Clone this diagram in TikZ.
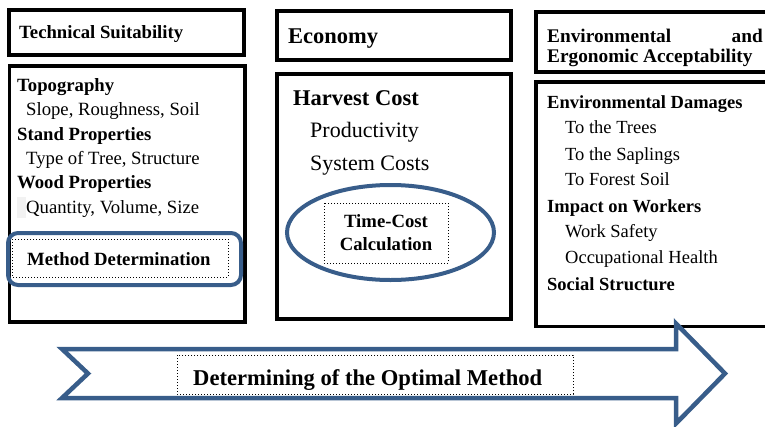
\documentclass[tikz,border=0pt]{standalone}
\usepackage{fontspec}
\setmainfont{Liberation Serif}
\usetikzlibrary{shapes.geometric}
\definecolor{arrblue}{RGB}{56,93,138}
\begin{document}
\begin{tikzpicture}[x=1pt,y=-1pt,
  box/.style={draw=black,line width=3.8pt},
  bluebox/.style={draw=arrblue,line width=4pt},
  dotbox/.style={draw=black,line width=0.9pt,dash pattern=on 0.9pt off 2.1pt},
  txt/.style={anchor=base west,inner sep=0pt,font=\fontsize{18.7}{22}\selectfont},
  btxt/.style={anchor=base west,inner sep=0pt,font=\fontsize{18.7}{22}\selectfont\bfseries},
  etxt/.style={anchor=base west,inner sep=0pt,font=\fontsize{22}{26}\selectfont},
  ebtxt/.style={anchor=base west,inner sep=0pt,font=\fontsize{22.5}{26}\selectfont\bfseries},
  vtxt/.style={anchor=base west,inner sep=0pt,font=\fontsize{18.5}{22}\selectfont},
  vbtxt/.style={anchor=base west,inner sep=0pt,font=\fontsize{18.5}{22}\selectfont\bfseries},
]
\useasboundingbox (0,0) rectangle (765,426);

% ---- column boxes
\draw[box] (8.7,10) rectangle (243.7,55);
\draw[box] (9.5,66.3) rectangle (244.7,322);
\draw[box] (277,11.3) rectangle (510.7,59.7);
\draw[box] (277,73.8) rectangle (511,318.7);
\draw[box] (536,12) rectangle (790,72);
\draw[box] (536,82) rectangle (790,326.5);

% ---- Technical Suitability
\node[btxt] (ts) at (19,38) {Technical Suitability};
\fill[black!5] (17,197) rectangle (26,218);
\node[btxt] (topo) at (17,91) {Topography};
\node[txt] (slope) at (26,115) {Slope, Roughness, Soil};
\node[btxt] (stand) at (17,140) {Stand Properties};
\node[txt] (type) at (26,164) {Type of Tree, Structure};
\node[btxt] (wood) at (17,188) {Wood Properties};
\node[txt] (qty) at (26,213) {Quantity, Volume, Size};
\draw[bluebox,rounded corners=10pt] (8,233) rectangle (241,285);
\draw[dotbox] (12,239) rectangle (228,277);
\node[btxt] (md) at (27,265) {Method Determination};

% ---- Economy
\node[ebtxt] (eco) at (288,43) {Economy};
\node[ebtxt] (hc) at (293,105) {Harvest Cost};
\node[etxt] (prod) at (310,137) {Productivity};
\node[etxt] (sc) at (310,170) {System Costs};
\draw[bluebox] (390.5,232.5) ellipse [x radius=103.5, y radius=47.5];
\draw[dotbox] (324,203) rectangle (448,263);
\node[anchor=base,inner sep=0pt,font=\fontsize{18.7}{22}\selectfont\bfseries] (tc1) at (386,227) {Time-Cost};
\node[anchor=base,inner sep=0pt,font=\fontsize{18.7}{22}\selectfont\bfseries] (tc2) at (386,250) {Calculation};

% ---- Environmental
\node[anchor=base west,inner sep=0pt,font=\fontsize{19.3}{22}\selectfont\bfseries] (env1) at (547,42) {Environmental};
\node[anchor=base east,inner sep=0pt,font=\fontsize{19.3}{22}\selectfont\bfseries] (env2) at (763,42) {and};
\node[anchor=base west,inner sep=0pt,font=\fontsize{19.3}{22}\selectfont\bfseries] (env3) at (547,62) {Ergonomic Acceptability};
\node[vbtxt] (ed) at (547,108) {Environmental Damages};
\node[vtxt] (tt) at (565,133) {To the Trees};
\node[vtxt] (tsap) at (565,160) {To the Saplings};
\node[vtxt] (tfs) at (565,185) {To Forest Soil};
\node[vbtxt] (iw) at (547,212) {Impact on Workers};
\node[vtxt] (ws) at (565,237) {Work Safety};
\node[vtxt] (oh) at (565,263) {Occupational Health};
\node[vbtxt] (ss) at (547,290) {Social Structure};

% ---- big arrow
\draw[draw=arrblue,line width=4.5pt,line join=miter]
  (62,349) -- (676,349) -- (676,323.5) -- (725,373.5) -- (676,423.5)
  -- (676,398) -- (62,398) -- (88,373.5) -- cycle;
\draw[dotbox] (177,355) rectangle (573,394);
\node[anchor=base west,inner sep=0pt,font=\fontsize{22.6}{26}\selectfont\bfseries] (opt) at (193,385) {Determining of the Optimal Method};
\end{tikzpicture}
\end{document}
